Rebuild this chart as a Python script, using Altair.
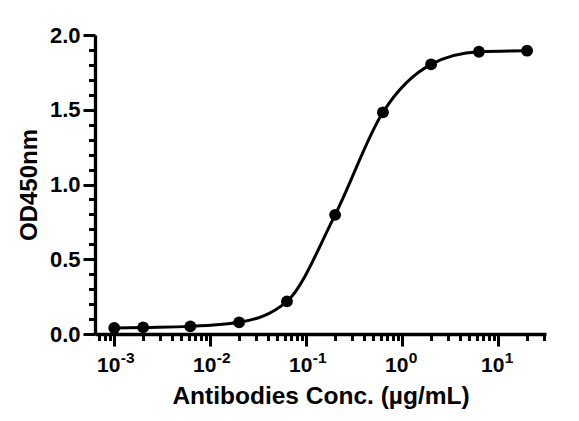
import altair as alt
import pandas as pd

# Data
conc = [0.001, 0.002, 0.0062, 0.02, 0.063, 0.2, 0.63, 2.0, 6.3, 20.0]
od450 = [0.040, 0.044, 0.051, 0.078, 0.218, 0.797, 1.483, 1.804, 1.888, 1.895]

x_major = [0.001, 0.01, 0.1, 1, 10]
x_base_labels = ["10", "10", "10", "10", "10"]
x_exp_labels = ["-3", "-2", "-1", "0", "1"]
x_minor = [m * d for d in [0.0001, 0.001, 0.01, 0.1, 1, 10] for m in range(2, 10)]
x_domain = [0.00063, 31.5]
x_minor = [v for v in x_minor if x_domain[0] <= v <= x_domain[1]]

y_major = [0.0, 0.5, 1.0, 1.5, 2.0]
y_minor = [0.1, 0.2, 0.3, 0.4, 0.6, 0.7, 0.8, 0.9, 1.1, 1.2, 1.3, 1.4, 1.6, 1.7, 1.8, 1.9]

df = pd.DataFrame({"conc": conc, "od": od450})

FONT = "Liberation Sans"


def expr_for(values, labels):
    return " : ".join(
        [f"datum.value == {v} ? '{l}'" for v, l in zip(values, labels)]
    ) + " : ''"


xscale = alt.Scale(type="log", domain=x_domain, nice=False)
yscale = alt.Scale(domain=[0, 2], nice=False, zero=True)

common_axis = dict(
    grid=False,
    tickColor="black",
    domainColor="black",
    labelColor="black",
    titleColor="black",
    labelFont=FONT,
    titleFont=FONT,
    labelFontWeight="bold",
    titleFontWeight="bold",
)

x_major_axis = alt.Axis(
    orient="bottom",
    values=x_major,
    labelExpr=expr_for(x_major, x_base_labels),
    tickSize=12,
    tickWidth=3,
    domainWidth=3.3,
    labelFontSize=21,
    labelPadding=8,
    labelOffset=-6,
    title="Antibodies Conc. (µg/mL)",
    titleFontSize=24.5,
    titlePadding=9,
    labelFlush=False,
    labelOverlap=False,
    **common_axis,
)
x_exp_axis = alt.Axis(
    orient="bottom",
    values=x_major,
    labelExpr=expr_for(x_major, x_exp_labels),
    ticks=False,
    tickSize=0,
    domain=False,
    labelFontSize=15.5,
    labelAlign="left",
    labelPadding=16,
    labelOffset=6,
    labelFlush=False,
    labelOverlap=False,
    title=None,
    **common_axis,
)
x_minor_axis = alt.Axis(
    orient="bottom",
    values=x_minor,
    labels=False,
    domain=False,
    tickSize=6.5,
    tickWidth=3,
    title=None,
    **common_axis,
)
y_major_axis = alt.Axis(
    orient="left",
    values=y_major,
    format=".1f",
    tickSize=12,
    tickWidth=3,
    domainWidth=3.3,
    labelFontSize=22,
    labelPadding=3,
    title="OD450nm",
    titleFontSize=24,
    titlePadding=8,
    labelFlush=False,
    **common_axis,
)
y_minor_axis = alt.Axis(
    orient="left",
    values=y_minor,
    labels=False,
    domain=False,
    tickSize=6.5,
    tickWidth=3,
    title=None,
    **common_axis,
)

base = alt.Chart(df)

line = base.mark_line(interpolate="monotone", color="black", strokeWidth=3).encode(
    x=alt.X("conc:Q", scale=xscale, axis=x_major_axis),
    y=alt.Y("od:Q", scale=yscale, axis=y_major_axis),
)
points = base.mark_circle(size=140, color="black", opacity=1).encode(
    x=alt.X("conc:Q", scale=xscale, axis=x_minor_axis),
    y=alt.Y("od:Q", scale=yscale, axis=y_minor_axis),
)
exp_layer = base.mark_point(opacity=0).encode(
    x=alt.X("conc:Q", scale=xscale, axis=x_exp_axis),
    y=alt.Y("od:Q", scale=yscale, axis=None),
)

chart = (
    alt.layer(line, points, exp_layer)
    .resolve_scale(x="shared", y="shared")
    .resolve_axis(x="independent", y="independent")
    .properties(
        width=451,
        height=299,
        autosize=alt.AutoSizeParams(type="none"),
        padding={"left": 87, "top": 27, "right": 20, "bottom": 78},
        background="white",
    )
    .configure_view(stroke=None)
)

chart.save("out.html", embed_options={"renderer": "svg", "actions": False})
